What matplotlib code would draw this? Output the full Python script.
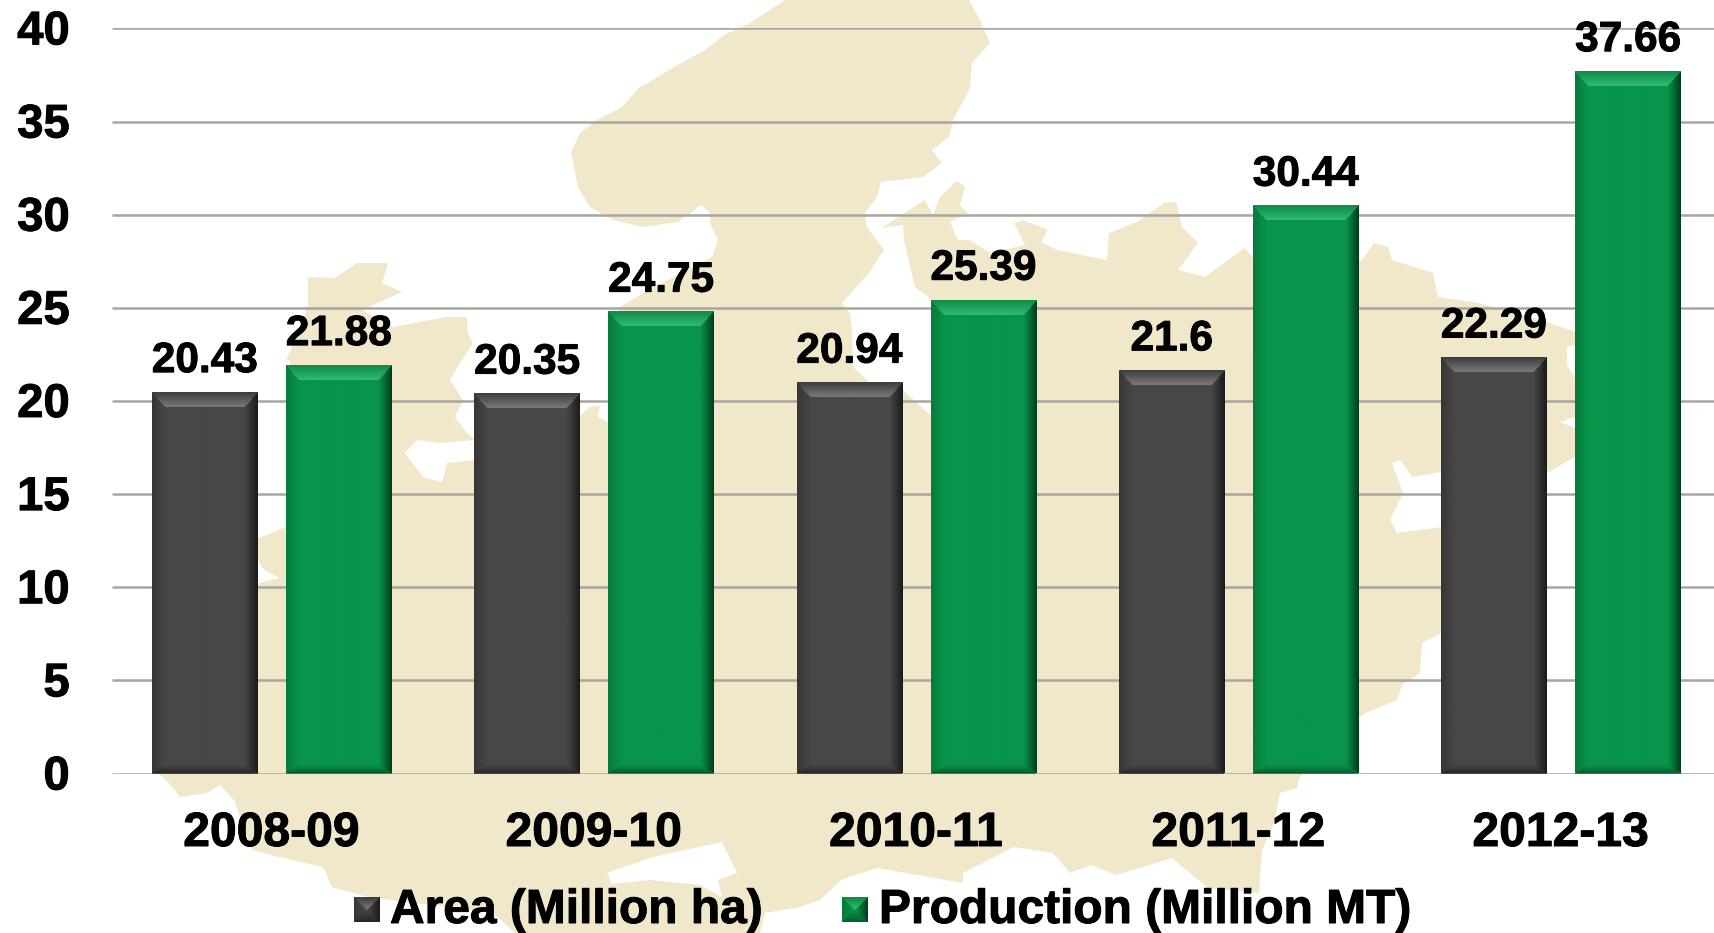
import numpy as np
import matplotlib
matplotlib.use("Agg")
import matplotlib.pyplot as plt
import matplotlib.patheffects as pe
from matplotlib.patches import PathPatch
from matplotlib.path import Path
from matplotlib.transforms import Affine2D, ScaledTranslation

years = ["2008-09", "2009-10", "2010-11", "2011-12", "2012-13"]
area = [20.43, 20.35, 20.94, 21.6, 22.29]
production = [21.88, 24.75, 25.39, 30.44, 37.66]
area_labels = ["20.43", "20.35", "20.94", "21.6", "22.29"]
production_labels = ["21.88", "24.75", "25.39", "30.44", "37.66"]
y_ticks = [0, 5, 10, 15, 20, 25, 30, 35, 40]
legend_names = ["Area (Million ha)", "Production (Million MT)"]

W, H = 1715, 933
plt.rcParams["font.family"] = ["Liberation Sans", "DejaVu Sans"]
plt.rcParams["font.weight"] = "bold"
HEAVY = [pe.withStroke(linewidth=0.7, foreground="black")]

# Decorative backdrop (pixel outline of the faint map behind the chart)
MAP_OUTLINE = [
    (785,0),(969,0),(980,20),(990,43),(972,63),(970,88),(953,120),(949,137),(932,150),(942,163),
    (923,177),(881,182),(877,197),(865,213),(867,227),(884,250),(869,273),(842,303),(850,313),
    (852,330),(853,367),(870,383),(903,390),(927,412),(936,420),(936,300),(932,300),(915,287),
    (904,240),(903,225),(882,228),(904,213),(925,200),(933,215),(940,197),(957,181),(965,187),
    (960,205),(968,213),(950,222),(958,240),(970,240),(990,253),(1025,245),(1014,223),(1023,220),
    (1048,230),(1041,242),(1057,250),(1107,260),(1109,233),(1137,222),(1164,203),(1176,202),
    (1182,227),(1198,243),(1178,270),(1205,277),(1228,260),(1244,248),(1258,262),(1350,265),
    (1362,260),(1374,243),(1388,247),(1392,260),(1433,273),(1438,297),(1479,303),(1547,322),
    (1578,333),(1578,345),(1567,347),(1567,365),(1575,378),(1580,400),(1575,417),(1560,422),
    (1575,428),(1580,440),(1575,457),(1547,473),(1442,472),(1412,477),(1400,460),(1392,463),
    (1403,493),(1390,520),(1397,533),(1442,527),(1445,527),(1445,600),(1441,633),(1422,643),
    (1420,673),(1402,685),(1397,700),(1366,713),(1340,730),(1300,777),(1297,788),(1280,793),
    (1274,823),(1262,850),(1259,893),(1208,888),(1172,858),(1116,875),(1091,865),(1070,873),
    (1053,853),(1014,847),(963,873),(963,883),(877,868),(841,880),(820,900),(800,907),(765,913),
    (760,933),(515,933),(493,913),(368,897),(332,887),(323,867),(279,857),(252,850),(234,800),
    (220,785),(207,793),(180,797),(169,783),(155,770),(200,700),(259,583),(279,578),(262,568),
    (250,540),(261,537),(286,527),(290,525),(290,360),(286,360),(295,340),(308,307),(308,277),
    (335,278),(357,263),(388,263),(382,283),(402,292),(362,310),(393,327),(446,317),(467,317),
    (468,333),(473,343),(460,363),(450,380),(463,400),(455,417),(467,433),(475,440),(440,443),
    (417,440),(405,453),(423,477),(442,482),(447,463),(475,460),(560,440),(583,413),(590,407),
    (600,405),(598,417),(608,422),(612,420),(612,330),(620,307),(643,293),(712,257),(718,240),
    (710,223),(710,213),(701,205),(678,222),(643,227),(613,220),(590,207),(578,187),(571,153),
    (580,133),(597,120),(622,107),(639,88),(674,67),(705,50),(724,35),(750,23),
]
MAP_HOLE = [(607,873),(653,857),(722,842),(737,873),(718,880),(722,897),(700,885),(650,880),(612,884)]

GREY = dict(base="#474747", top=("#3c3c3c", "#7A7A7A"), left="#363636", right="#1a1a1a", bottom="#262626")
GREEN = dict(base="#08944A", top=("#0B8B45", "#33BA74"), left="#077A3B", right="#023A1C", bottom="#045E2E")


def rgb(c):
    return np.array(matplotlib.colors.to_rgb(c))


def bevel(w, h, style, bt=15, bs=13, bb=8):
    """Image of a bevelled rectangle, w x h pixels (row 0 at the top)."""
    w, h = max(int(round(w)), 2), max(int(round(h)), 2)
    yy, xx = np.mgrid[0:h, 0:w] + 0.5
    d = np.stack([yy / bt, (h - yy) / bb, xx / bs, (w - xx) / bs])
    side = d.argmin(axis=0)
    t = np.clip(d.min(axis=0), 0, 1)[..., None]
    img = np.empty((h, w, 3))
    base = rgb(style["base"])
    pairs = [(rgb(style["top"][0]), rgb(style["top"][1])), (rgb(style["bottom"]), base),
             (rgb(style["left"]), base), (rgb(style["right"]), base)]
    for i, (a, b) in enumerate(pairs):
        col = a + (b - a) * t
        img[side == i] = col[side == i]
    img[t[..., 0] >= 1] = base
    return img


fig = plt.figure(figsize=(W / 100, H / 100), dpi=100, facecolor="white")
px = Affine2D().scale(1 / W, -1 / H).translate(0, 1) + fig.transFigure
verts = MAP_OUTLINE + [MAP_OUTLINE[0]] + MAP_HOLE[::-1] + [MAP_HOLE[-1]]
codes = ([Path.MOVETO] + [Path.LINETO] * (len(MAP_OUTLINE) - 1) + [Path.CLOSEPOLY]
         + [Path.MOVETO] + [Path.LINETO] * (len(MAP_HOLE) - 1) + [Path.CLOSEPOLY])
fig.add_artist(PathPatch(Path(verts, codes), transform=px, facecolor="#F1E8CC", edgecolor="none", zorder=0))

ax = fig.add_axes([111.5 / W, (H - 773.5) / H, 1611.5 / W, 745.1 / H], zorder=1)
ax.patch.set_alpha(0)
for s in ax.spines.values():
    s.set_visible(False)

x = np.arange(len(years))
bw = 0.327
ax.set_xlim(-0.5, len(years) - 0.5)
ax.set_ylim(0, 40)
bars_a = ax.bar(x - 0.374 + bw / 2, area, bw, color=GREY["base"], zorder=3, label=legend_names[0])
bars_p = ax.bar(x + 0.042 + bw / 2, production, bw, color=GREEN["base"], zorder=3, label=legend_names[1])

ax.set_yticks(y_ticks)
ax.set_xticks(x - 0.004, years)
ax.tick_params(axis="y", length=0, pad=30, labelsize=34, labelcolor="black")
ax.tick_params(axis="x", length=0, pad=27, labelsize=34.6, labelcolor="black")
ax.hlines(y_ticks, -0.5, len(years) - 0.5, color="#A9A5A0", lw=1.8, zorder=2)
nudge = ScaledTranslation(0, 1 / 100, fig.dpi_scale_trans)
for lab in ax.get_yticklabels():
    lab.set_transform(lab.get_transform() + nudge)
for lab in ax.get_yticklabels() + ax.get_xticklabels():
    lab.set_path_effects(HEAVY)

fig.canvas.draw()
for bars, style, labels in ((bars_a, GREY, area_labels), (bars_p, GREEN, production_labels)):
    for rect, lab in zip(bars, labels):
        x0, y0, bwid, bh = rect.get_x(), rect.get_y(), rect.get_width(), rect.get_height()
        p0 = ax.transData.transform((x0, y0))
        p1 = ax.transData.transform((x0 + bwid, y0 + bh))
        ax.imshow(bevel(p1[0] - p0[0], p1[1] - p0[1], style), extent=(x0, x0 + bwid, y0, y0 + bh),
                  aspect="auto", zorder=4, interpolation="bilinear", origin="upper")
        ax.annotate(lab, (x0 + bwid / 2, bh), xytext=(0, 15), textcoords="offset points",
                    ha="center", va="baseline", fontsize=30.5, fontweight="bold", color="black",
                    zorder=5, path_effects=HEAVY)
ax.set_xlim(-0.5, len(years) - 0.5)
ax.set_ylim(0, 40)

# legend, placed by hand
for (sx, tx), style, name in zip(((354, 390), (842, 879)), (GREY, GREEN), legend_names):
    sw = fig.add_axes([sx / W, (H - 922) / H, 26 / W, 25 / H], zorder=2)
    sw.imshow(bevel(52, 50, style, bt=25, bs=25, bb=25), aspect="auto", interpolation="bilinear")
    sw.axis("off")
    fig.text(tx / W, (H - 923) / H, name, fontsize=34.5, fontweight="bold", color="black",
             ha="left", va="baseline", zorder=3, path_effects=HEAVY)

fig.savefig("out.png", dpi=100)
